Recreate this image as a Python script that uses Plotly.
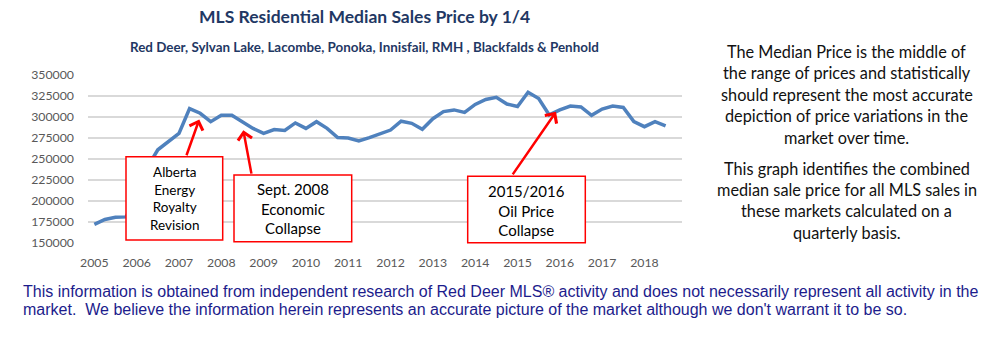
import plotly.graph_objects as go

# ---- data ----
years = ["2005", "2006", "2007", "2008", "2009", "2010", "2011", "2012",
         "2013", "2014", "2015", "2016", "2017", "2018"]
# quarterly median price, 2005 Q1 .. 2018 Q3
prices = [172000, 178000, 180500, 181000, 205000, 240000, 261000, 270500,
          280500, 310000, 304500, 294500, 302000, 302000, 294500, 286500,
          280500, 285000, 284000, 293000, 286500, 294500, 286500, 275500,
          275000, 271500, 275500, 279500, 284500, 295000, 292500, 285500,
          298000, 306500, 308500, 305500, 315000, 321000, 323500, 315500,
          312500, 329500, 322000, 302500, 308500, 313000, 312000, 302000,
          309500, 313000, 311500, 294500, 288500, 294500, 289500]
quarter_idx = list(range(len(prices)))
tick_idx = [4 * k for k in range(len(years))]

y_ticks = [150000, 175000, 200000, 225000, 250000, 275000, 300000, 325000, 350000]

title = "MLS Residential Median Sales Price by 1/4"
subtitle = "Red Deer, Sylvan Lake, Lacombe, Ponoka, Innisfail, RMH , Blackfalds & Penhold"
side_para1 = ["The Median Price is the middle of", "the range of prices and statistically",
              "should represent the most accurate", "depiction of price variations in the",
              "market over time."]
side_para2 = ["This graph identifies the combined", "median sale price for all MLS sales in",
              "these markets calculated on a", "quarterly basis."]
footer = ["This information is obtained from independent research of Red Deer MLS\u00ae activity and does not necessarily represent all activity in the",
          "market.  We believe the information herein represents an accurate picture of the market although we don't warrant it to be so."]
events = [
    {"text": "Alberta<br>Energy<br>Royalty<br>Revision", "tip_q": 9.92, "tip_v": 297200},
    {"text": "Sept. 2008<br>Economic<br>Collapse", "tip_q": 14.08, "tip_v": 284400},
    {"text": "2015/2016<br>Oil Price<br>Collapse", "tip_q": 43.64, "tip_v": 306200},
]

# ---- layout geometry (pixels) ----
W, H = 1002, 346
ML, MR, MT, MB = 88, 320, 75, 103
PW, PH = W - ML - MR, H - MT - MB


def px(x):
    return (x - ML) / PW


def py(y):
    return (H - MB - y) / PH


CAL = "Lato"
NAVY = "#1f3864"
fig = go.Figure()
fig.add_trace(go.Scatter(
    x=quarter_idx, y=prices, mode="lines",
    line=dict(color="#4f81bd", width=3.5, shape="linear"),
    hoverinfo="skip", showlegend=False,
))

fig.update_layout(
    width=W, height=H,
    margin=dict(l=ML, r=MR, t=MT, b=MB),
    paper_bgcolor="white", plot_bgcolor="white",
    showlegend=False,
    xaxis=dict(range=[-0.6, 55.55], tickvals=tick_idx, ticktext=years,
               showgrid=False, zeroline=False, showline=False, ticks="",
               tickfont=dict(family=CAL, size=12.3, color="#595959"),
               ticklabelstandoff=11),
    yaxis=dict(range=[149900, 350100], tickvals=y_ticks, tickformat="d",
               showgrid=True, gridcolor="#d9d9d9", gridwidth=1.5,
               zeroline=False, showline=False, ticks="",
               tickfont=dict(family=CAL, size=12.3, color="#595959"),
               ticklabelstandoff=13),
)

# event boxes (drawn above the line)
boxes = [(126, 156.7, 222.7, 240), (234, 175, 351.7, 241.7), (467.7, 176.3, 585.3, 242.7)]
box_font = [13.5, 15, 15]
tails = [(186, 156.7), (251.7, 175), (511.7, 175.7)]
for ev, (x0, y0, x1, y1), fs in zip(events, boxes, box_font):
    fig.add_shape(type="rect", xref="paper", yref="paper",
                  x0=px(x0), x1=px(x1), y0=py(y1), y1=py(y0),
                  line=dict(color="#ff0000", width=1.5), fillcolor="white",
                  layer="above")
    fig.add_annotation(xref="paper", yref="paper", x=px((x0 + x1) / 2), y=py((y0 + y1) / 2 + 0.5),
                       text=ev["text"], showarrow=False, xanchor="center", yanchor="middle",
                       font=dict(family=CAL, size=fs, color="#000000"))

# arrows from box tops to the line (tail offsets in pixels)
offs = [(-13.3, 37.4), (8.4, 45), (-44.3, 64)]
for ev, (ox, oy) in zip(events, offs):
    fig.add_annotation(xref="x", yref="y", x=ev["tip_q"], y=ev["tip_v"],
                       ax=ox, ay=oy, text="",
                       showarrow=True, arrowhead=4, arrowsize=1.1, arrowwidth=2.5,
                       arrowcolor="#ff0000", standoff=0, startstandoff=0)

# titles
fig.add_annotation(xref="paper", yref="paper", x=px(364), y=py(17), text="<b>" + title + "</b>",
                   showarrow=False, xanchor="center", yanchor="middle",
                   font=dict(family=CAL, size=17.5, color=NAVY))
fig.add_annotation(xref="paper", yref="paper", x=px(364), y=py(47), text="<b>" + subtitle + "</b>",
                   showarrow=False, xanchor="center", yanchor="middle",
                   font=dict(family=CAL, size=13.4, color=NAVY))

# side text
for i, line in enumerate(side_para1):
    fig.add_annotation(xref="paper", yref="paper", x=px(847), y=py(51 + 21.5 * i), text=line,
                       showarrow=False, xanchor="center", yanchor="middle",
                       font=dict(family=CAL, size=16.3, color="#111111"))
for i, line in enumerate(side_para2):
    fig.add_annotation(xref="paper", yref="paper", x=px(847), y=py(168.5 + 21.2 * i), text=line,
                       showarrow=False, xanchor="center", yanchor="middle",
                       font=dict(family=CAL, size=16.3, color="#111111"))

# footer
for i, line in enumerate(footer):
    fig.add_annotation(xref="paper", yref="paper", x=px(21), y=py(291 + 18.7 * i), text=line,
                       showarrow=False, xanchor="left", yanchor="middle",
                       font=dict(family="Liberation Sans, Arial", size=16, color="#1c1c8c"))

fig.write_html("out.html")
